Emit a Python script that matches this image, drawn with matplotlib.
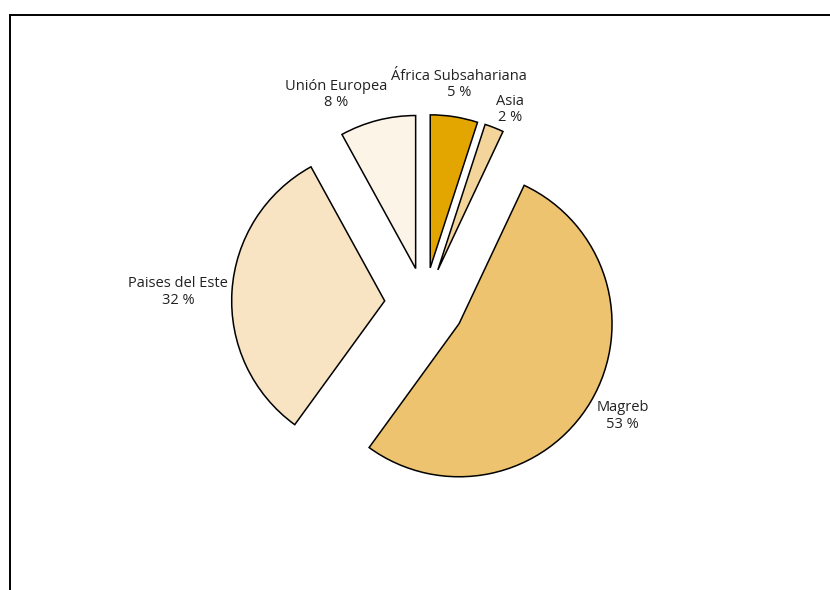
import matplotlib
matplotlib.use("Agg")
import matplotlib.pyplot as plt
import numpy as np

# shares by region of origin (%)
regions = ["África Subsahariana", "Asia", "Magreb", "Paises del Este", "Unión Europea"]
shares = [5, 2, 53, 32, 8]
colors = ["#E3A600", "#F3D49B", "#EDC36F", "#F8E4C3", "#FDF4E8"]
explode_px = [36, 36, 40, 40, 36]

W, H = 830, 590
cx, cy, r = 424.6, H - 303.4, 153

fig = plt.figure(figsize=(8.3, 5.9), dpi=100)
ax = fig.add_axes([0, 0, 1, 1])

# explode is in data units here (radius != 1)
wedges, _ = ax.pie(shares, colors=colors, startangle=90, counterclock=False,
                   center=(cx, cy), radius=r, explode=explode_px,
                   wedgeprops=dict(edgecolor="black", linewidth=1.1))

# label positions: distance from centre (in radii) along the wedge mid-angle
label_dist = [1.45, 1.385, 1.49, 1.614, 1.48]
label_shift = [0, -2.3, 1.0, 0.95, 8.5]  # degrees
for w, name, val, d, s in zip(wedges, regions, shares, label_dist, label_shift):
    ang = np.deg2rad((w.theta1 + w.theta2) / 2 + s)
    x = cx + d * r * np.cos(ang)
    y = cy + d * r * np.sin(ang)
    ax.text(x, y, f"{name}\n{val} %", ha="center", va="center",
            multialignment="center", fontsize=10.5, family="Open Sans",
            color="#222222", linespacing=1.12)

ax.set_xlim(0, W)
ax.set_ylim(0, H)
ax.set_aspect("equal")
ax.axis("off")

# frame lines (top and left)
fig.add_artist(plt.Line2D([10 / W, 1], [1 - 15 / H, 1 - 15 / H], color="black", lw=1.4))
fig.add_artist(plt.Line2D([10 / W, 10 / W], [0, 1 - 15 / H], color="black", lw=1.4))

fig.savefig("out.png", dpi=100)
